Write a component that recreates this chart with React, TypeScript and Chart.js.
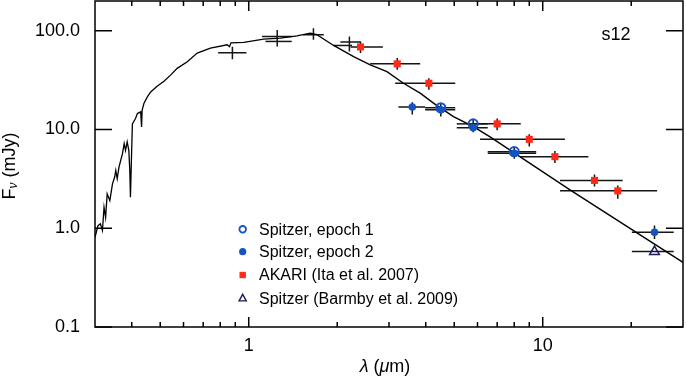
import React, { useEffect, useRef } from "react";
import { Chart, registerables } from "chart.js";
Chart.register(...registerables);

const FONT = "'Liberation Sans', Arial, Helvetica, sans-serif";

// Stellar spectrum (black line)
const specWave = [0.300, 0.307, 0.313, 0.318, 0.322, 0.326, 0.330, 0.337, 0.344, 0.350, 0.353, 0.357, 0.362, 0.372, 0.377, 0.381, 0.386, 0.391, 0.394, 0.396, 0.399, 0.402, 0.412, 0.418, 0.429, 0.432, 0.434, 0.440, 0.452, 0.464, 0.488, 0.515, 0.542, 0.571, 0.618, 0.668, 0.741, 0.845, 0.860, 0.870, 0.962, 1.124, 1.281, 1.46, 1.62, 1.707];
const specFlux = [0.81, 1.06, 1.11, 0.95, 1.63, 1.29, 2.23, 1.91, 2.82, 3.30, 3.85, 3.17, 4.16, 5.69, 7.2, 6.15, 7.5, 6.15, 3.85, 2.06, 4.87, 11.4, 12.9, 14.5, 15.1, 10.6, 15.7, 18.3, 21.4, 24.0, 27.4, 30.8, 35.5, 41.6, 48.6, 59.4, 66.8, 72, 68.8, 75.5, 76.1, 82.4, 84.3, 88.9, 94.6, 91.1];

// Model extension (black line)
const modelWave = [1.707, 1.944, 2.274, 2.59, 2.952, 3.36, 3.83, 4.25, 4.97, 5.81, 6.62, 12.38, 30.0];
const modelFlux = [91.1, 70.9, 54.8, 45.2, 38.6, 29.4, 23.3, 18.5, 13.5, 10.67, 8.4, 2.45, 0.452];

// Ground-based photometry (black crosses)
const groundWave = [0.88, 1.25, 1.26, 1.66, 2.20, 2.09];
const groundFlux = [60, 87.5, 77.9, 91, 76.8, 70.9];
const groundWaveLo = [0.787, 1.11, 1.14, 1.53, 2.05, 1.94];
const groundWaveHi = [0.982, 1.40, 1.40, 1.80, 2.40, 2.245];
const groundFluxLo = [51.5, 69.3, 77.9, 81, 61.7, 70.9];
const groundFluxHi = [69, 102, 77.9, 106, 87.5, 70.9];

// AKARI (Ita et al. 2007)
const akariWave = [2.4, 3.2, 4.1, 7.0, 9.0, 11.0, 15.0, 18.0];
const akariFlux = [68.5, 46.2, 29.4, 11.4, 7.95, 5.3, 3.05, 2.39];
const akariWaveLo = [2.22, 2.59, 3.15, 5.85, 6.12, 8.4, 11.45, 11.45];
const akariWaveHi = [2.86, 3.83, 5.04, 8.42, 11.9, 14.3, 18.7, 24.5];
const akariFluxLo = [59.4, 40.2, 25.2, 9.8, 6.74, 4.57, 2.65, 1.99];
const akariFluxHi = [78, 52.8, 33.0, 12.9, 8.94, 6.06, 3.5, 2.71];

// Spitzer, epoch 1
const ep1Wave = [4.5, 5.8, 8.0];
const ep1Flux = [16.6, 11.4, 5.96];
const ep1WaveLo = [3.98, 5.1, 6.5];
const ep1WaveHi = [5.04, 6.5, 9.5];

// Spitzer, epoch 2
const ep2Wave = [3.6, 4.5, 5.8, 8.0, 24.0];
const ep2Flux = [16.9, 15.8, 10.4, 5.73, 0.91];
const ep2WaveLo = [3.23, 3.98, 5.1, 6.5, 20.1];
const ep2WaveHi = [3.98, 5.04, 6.5, 9.5, 27.9];
const ep2FluxLo = [14.2, 13.5, 9.4, 5.06, 0.78];
const ep2FluxHi = [18.9, 18.5, 12.6, 6.55, 1.065];

// Spitzer (Barmby et al. 2009)
const barmbyWave = [24.0];
const barmbyFlux = [0.58];
const barmbyWaveLo = [20.1];
const barmbyWaveHi = [27.9];

const xMajor = [1, 10];
const xMinor = [0.4, 0.5, 0.6, 0.7, 0.8, 0.9, 2, 3, 4, 5, 6, 7, 8, 9, 20];
const yMajor = [0.1, 1, 10, 100];

const legendLabels = ["Spitzer, epoch 1", "Spitzer, epoch 2", "AKARI (Ita et al. 2007)", "Spitzer (Barmby et al. 2009)"];

const BLUE = "#1553c2";
const RED = "#ff2a18";
const NAVY = "#1b1b5e";

function pts(wave: number[], flux: number[], wLo?: number[], wHi?: number[], fLo?: number[], fHi?: number[]) {
  return wave.map((w, i) => ({
    x: w,
    y: flux[i],
    xMin: wLo ? wLo[i] : undefined,
    xMax: wHi ? wHi[i] : undefined,
    yMin: fLo ? fLo[i] : undefined,
    yMax: fHi ? fHi[i] : undefined,
  }));
}

const errorBarPlugin = {
  id: "errorBars",
  beforeDatasetsDraw(chart: any) {
    const { ctx, chartArea: a, scales } = chart;
    const x = scales.x, y = scales.y;
    ctx.save();
    ctx.beginPath();
    ctx.rect(a.left, a.top, a.right - a.left, a.bottom - a.top);
    ctx.clip();
    ctx.strokeStyle = "#151515";
    ctx.lineWidth = 1.5;
    chart.data.datasets.forEach((ds: any) => {
      if (!ds.errorBars) return;
      ds.data.forEach((p: any) => {
        const cx = x.getPixelForValue(p.x);
        const cy = y.getPixelForValue(p.y);
        ctx.beginPath();
        if (p.xMin != null && p.xMax != null) {
          ctx.moveTo(x.getPixelForValue(p.xMin), cy);
          ctx.lineTo(x.getPixelForValue(p.xMax), cy);
        }
        if (p.yMin != null && p.yMax != null && p.yMin !== p.yMax) {
          ctx.moveTo(cx, y.getPixelForValue(p.yMin));
          ctx.lineTo(cx, y.getPixelForValue(p.yMax));
        }
        ctx.stroke();
      });
    });
    ctx.restore();
  },
};

function drawParts(ctx: CanvasRenderingContext2D, parts: { t: string; italic?: boolean; size: number; dy?: number }[], cx: number, cy: number) {
  let total = 0;
  parts.forEach((p) => {
    ctx.font = `${p.italic ? "italic " : ""}${p.size}px ${FONT}`;
    total += ctx.measureText(p.t).width;
  });
  let xx = cx - total / 2;
  parts.forEach((p) => {
    ctx.font = `${p.italic ? "italic " : ""}${p.size}px ${FONT}`;
    ctx.fillText(p.t, xx, cy + (p.dy || 0));
    xx += ctx.measureText(p.t).width;
  });
}

const decorPlugin = {
  id: "decor",
  afterDraw(chart: any) {
    const { ctx, chartArea: a, scales } = chart;
    const x = scales.x, y = scales.y;
    ctx.save();
    // frame
    ctx.strokeStyle = "#000";
    ctx.lineWidth = 1.5;
    ctx.strokeRect(a.left, a.top, a.right - a.left, a.bottom - a.top);
    // ticks (inward)
    ctx.beginPath();
    xMajor.forEach((v) => {
      const px = x.getPixelForValue(v);
      ctx.moveTo(px, a.bottom); ctx.lineTo(px, a.bottom - 10);
      ctx.moveTo(px, a.top); ctx.lineTo(px, a.top + 10);
    });
    xMinor.forEach((v) => {
      const px = x.getPixelForValue(v);
      ctx.moveTo(px, a.bottom); ctx.lineTo(px, a.bottom - 5);
      ctx.moveTo(px, a.top); ctx.lineTo(px, a.top + 5);
    });
    yMajor.forEach((v) => {
      const py = y.getPixelForValue(v);
      ctx.moveTo(a.left, py); ctx.lineTo(a.left + 17, py);
      ctx.moveTo(a.right, py); ctx.lineTo(a.right - 17, py);
    });
    ctx.stroke();

    ctx.fillStyle = "#000";
    ctx.textBaseline = "middle";
    ctx.textAlign = "left";
    // x-axis title
    drawParts(ctx, [
      { t: "λ", italic: true, size: 18 },
      { t: " (", size: 18 },
      { t: "μ", italic: true, size: 18 },
      { t: "m)", size: 18 },
    ], 385, 367);
    // y-axis title
    ctx.save();
    ctx.translate(10, 166);
    ctx.rotate(-Math.PI / 2);
    drawParts(ctx, [
      { t: "F", size: 18 },
      { t: "ν", italic: true, size: 12, dy: 4 },
      { t: " (mJy)", size: 18 },
    ], 0, 0);
    ctx.restore();

    // panel label
    ctx.font = `18px ${FONT}`;
    ctx.textAlign = "center";
    ctx.fillText("s12", 616, 35);

    // legend
    const mx = 242.7, tx = 259;
    const rows = [229.3, 251.7, 275, 298.3];
    ctx.textAlign = "left";
    ctx.font = `16px ${FONT}`;
    legendLabels.forEach((lab, i) => {
      ctx.fillStyle = "#000";
      ctx.fillText(lab, tx, rows[i] + 1);
    });
    // open circle
    ctx.lineWidth = 1.8;
    ctx.strokeStyle = BLUE;
    ctx.beginPath(); ctx.arc(mx, rows[0], 3.3, 0, Math.PI * 2); ctx.stroke();
    // filled circle
    ctx.fillStyle = BLUE;
    ctx.beginPath(); ctx.arc(mx, rows[1], 3.6, 0, Math.PI * 2); ctx.fill();
    // red square
    ctx.fillStyle = RED;
    ctx.fillRect(mx - 3.2, rows[2] - 3.2, 6.4, 6.4);
    // triangle
    ctx.strokeStyle = NAVY;
    ctx.lineWidth = 1.4;
    ctx.beginPath();
    ctx.moveTo(mx, rows[3] - 4);
    ctx.lineTo(mx + 3.6, rows[3] + 2.6);
    ctx.lineTo(mx - 3.6, rows[3] + 2.6);
    ctx.closePath();
    ctx.stroke();
    ctx.restore();
  },
};

export default function App() {
  const ref = useRef<HTMLCanvasElement>(null);
  useEffect(() => {
    document.body.style.margin = "0";
    const canvas = ref.current!;
    const zeroPad = (s: any) => {
      s.paddingTop = 0; s.paddingBottom = 0; s.paddingLeft = 0; s.paddingRight = 0;
    };
    const chart = new Chart(canvas, {
      type: "scatter",
      data: {
        datasets: [
          {
            label: "Spitzer, epoch 1",
            data: pts(ep1Wave, ep1Flux, ep1WaveLo, ep1WaveHi),
            errorBars: true,
            pointStyle: "circle",
            pointRadius: 4.6,
            borderWidth: 2,
            borderColor: BLUE,
            backgroundColor: "rgba(0,0,0,0)",
          } as any,
          {
            label: "Spitzer, epoch 2",
            data: pts(ep2Wave, ep2Flux, ep2WaveLo, ep2WaveHi, ep2FluxLo, ep2FluxHi),
            errorBars: true,
            pointStyle: "circle",
            pointRadius: 3.8,
            borderWidth: 0,
            borderColor: BLUE,
            backgroundColor: BLUE,
          } as any,
          {
            label: "AKARI (Ita et al. 2007)",
            data: pts(akariWave, akariFlux, akariWaveLo, akariWaveHi, akariFluxLo, akariFluxHi),
            errorBars: true,
            pointStyle: "rect",
            pointRadius: 5,
            borderWidth: 0,
            borderColor: RED,
            backgroundColor: RED,
          } as any,
          {
            label: "Spitzer (Barmby et al. 2009)",
            data: pts(barmbyWave, barmbyFlux, barmbyWaveLo, barmbyWaveHi),
            errorBars: true,
            pointStyle: "triangle",
            pointRadius: 5.6,
            borderWidth: 1.5,
            borderColor: NAVY,
            backgroundColor: "rgba(0,0,0,0)",
          } as any,
          {
            label: "Photometry",
            data: pts(groundWave, groundFlux, groundWaveLo, groundWaveHi, groundFluxLo, groundFluxHi),
            errorBars: true,
            pointRadius: 0,
            borderWidth: 0,
          } as any,
          {
            label: "Model",
            data: modelWave.map((w, i) => ({ x: w, y: modelFlux[i] })),
            showLine: true,
            pointRadius: 0,
            borderColor: "#000",
            borderWidth: 1.4,
            tension: 0,
          },
          {
            label: "Spectrum",
            data: specWave.map((w, i) => ({ x: w, y: specFlux[i] })),
            showLine: true,
            pointRadius: 0,
            borderColor: "#000",
            borderWidth: 1.3,
            tension: 0,
          },
        ],
      },
      options: {
        animation: false,
        responsive: false,
        devicePixelRatio: 1,
        events: [],
        layout: { autoPadding: false, padding: { top: 1, right: 3, left: 0, bottom: 0 } },
        plugins: { legend: { display: false }, tooltip: { enabled: false } },
        scales: {
          x: {
            type: "logarithmic",
            position: "bottom",
            min: 0.3,
            max: 30,
            grid: { display: false, drawTicks: false },
            border: { display: false },
            ticks: {
              autoSkip: false,
              maxRotation: 0,
              padding: 8,
              color: "#000",
              font: { family: FONT, size: 18 },
              callback: (v: any) => String(v),
            },
            afterBuildTicks: (s: any) => {
              s.ticks = xMajor.map((v) => ({ value: v }));
            },
            afterFit: (s: any) => {
              s.height = 54;
              zeroPad(s);
            },
          },
          y: {
            type: "logarithmic",
            position: "left",
            min: 0.1,
            max: 200,
            grid: { display: false, drawTicks: false },
            border: { display: false },
            ticks: {
              autoSkip: false,
              padding: 15,
              color: "#000",
              font: { family: FONT, size: 18 },
              callback: (v: any) => Number(v).toFixed(1),
            },
            afterBuildTicks: (s: any) => {
              s.ticks = yMajor.map((v) => ({ value: v }));
            },
            afterFit: (s: any) => {
              s.width = 95;
              zeroPad(s);
            },
          },
        },
      } as any,
      plugins: [errorBarPlugin, decorPlugin],
    });
    return () => chart.destroy();
  }, []);
  return (
    <div style={{ position: "absolute", left: 0, top: 0, width: 686, height: 381 }}>
      <canvas ref={ref} width={686} height={381} style={{ display: "block" }} />
    </div>
  );
}
